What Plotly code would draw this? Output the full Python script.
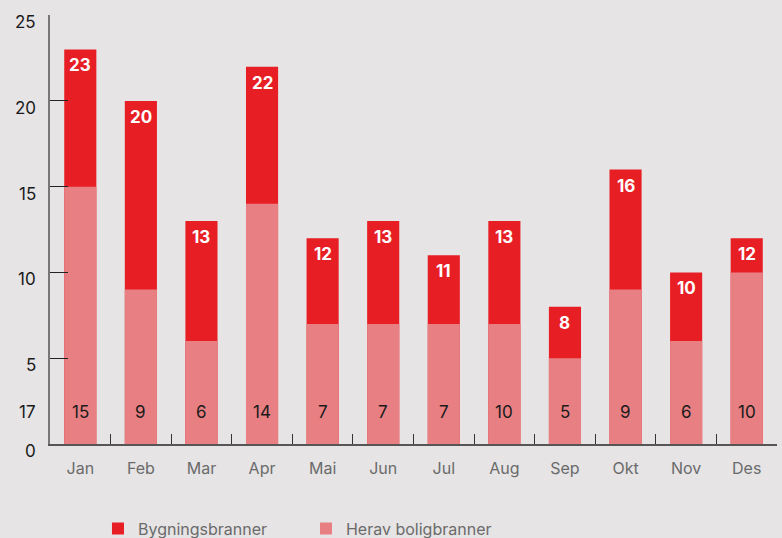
import plotly.graph_objects as go

months = ["Jan", "Feb", "Mar", "Apr", "Mai", "Jun", "Jul", "Aug", "Sep", "Okt", "Nov", "Des"]
bygningsbranner = [23, 20, 13, 22, 12, 13, 11, 13, 8, 16, 10, 12]
boligbranner_bars = [15, 9, 6, 14, 7, 7, 7, 7, 5, 9, 6, 10]
boligbranner_labels = [15, 9, 6, 14, 7, 7, 7, 10, 5, 9, 6, 10]
y_ticks = [0, 5, 10, 15, 20, 25]
stray_label = "17"

RED = "#e81e25"
PINK = "#e88083"
BG = "#e6e4e5"
FONT = "Inter, Liberation Sans, sans-serif"

fig = go.Figure()
fig.add_trace(go.Bar(x=months, y=bygningsbranner, name="Bygningsbranner",
                     marker=dict(color=RED, line=dict(width=0)), width=0.53))
fig.add_trace(go.Bar(x=months, y=boligbranner_bars, name="Herav boligbranner",
                     marker=dict(color=PINK, line=dict(width=0)), width=0.53))

annotations = []
for m, v in zip(months, bygningsbranner):
    annotations.append(dict(x=m, y=v, text=f"<b>{v}</b>", showarrow=False, yshift=-16,
                            yanchor="middle", font=dict(color="white", size=17, family=FONT)))
for m, v in zip(months, boligbranner_labels):
    annotations.append(dict(x=m, y=2, text=str(v), showarrow=False, yshift=-2,
                            yanchor="middle", font=dict(color="#1a1a1a", size=17, family=FONT)))
annotations.append(dict(xref="paper", x=0, y=2, text=stray_label, showarrow=False, yshift=-2,
                        xshift=-12, xanchor="right", yanchor="middle",
                        font=dict(color="#1a1a1a", size=17, family=FONT)))
for t in y_ticks:
    annotations.append(dict(xref="paper", x=0, y=t, text=str(t), showarrow=False, yshift=-7,
                            xshift=-12, xanchor="right", yanchor="middle",
                            font=dict(color="#1a1a1a", size=17, family=FONT)))

fig.update_layout(
    width=782, height=538,
    paper_bgcolor=BG, plot_bgcolor=BG,
    barmode="overlay",
    margin=dict(l=50, r=5, t=15, b=94, autoexpand=False),
    font=dict(family=FONT),
    showlegend=True,
    legend=dict(orientation="h", x=0.066, xanchor="left", y=-0.197, yanchor="middle",
                font=dict(size=16, color="#6b6b6b", family=FONT),
                entrywidth=163, itemsizing="constant", bgcolor="rgba(0,0,0,0)"),
    annotations=annotations,
)
fig.update_xaxes(showgrid=False, showline=True, linecolor="#555555", linewidth=2,
                 ticks="inside", tickson="boundaries", ticklen=10, tickcolor="#333333",
                 tickwidth=1, tickfont=dict(size=16, color="#6b6b6b", family=FONT),
                 ticklabelstandoff=9)
fig.update_yaxes(range=[0, 25.01], tickvals=y_ticks, showticklabels=False, showgrid=False,
                 zeroline=False, showline=True, linecolor="#777777", linewidth=2,
                 ticks="inside", ticklen=18, tickcolor="#222222", tickwidth=1)

fig.write_html("out.html", config={"displayModeBar": False},
               post_script="document.body.style.margin='0';document.body.style.background='%s';" % BG)
